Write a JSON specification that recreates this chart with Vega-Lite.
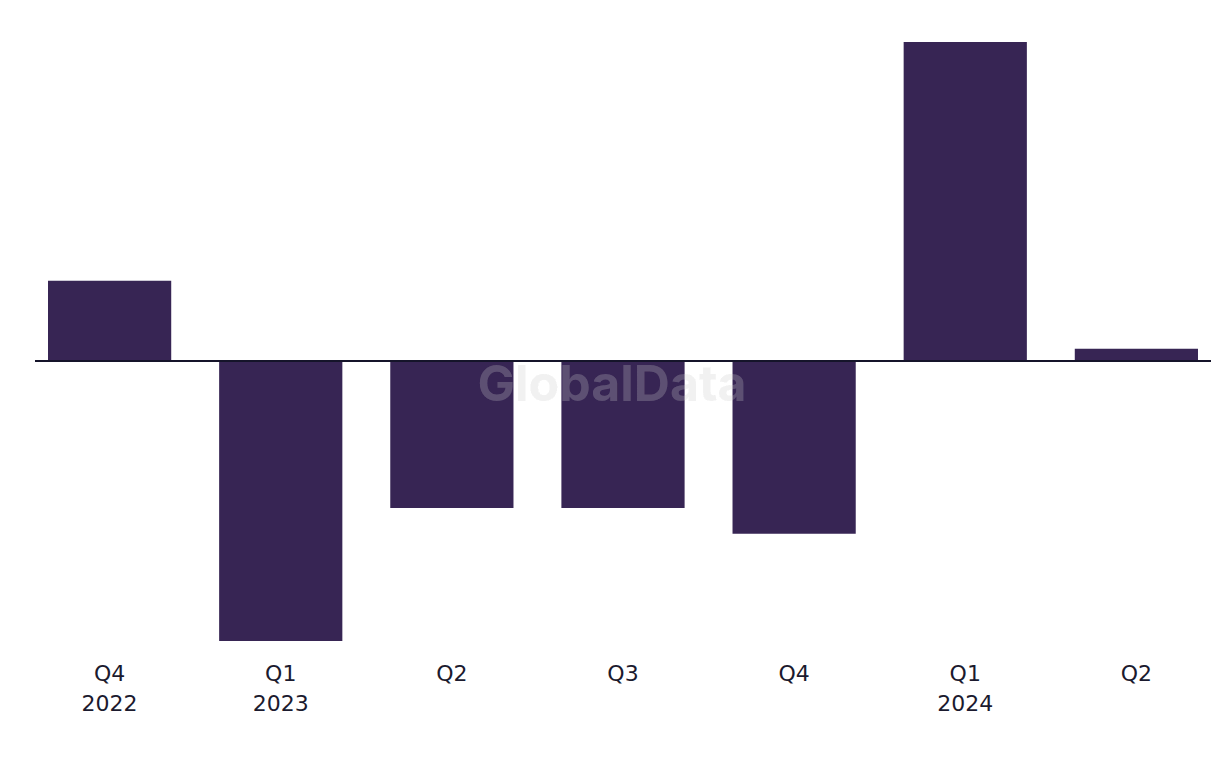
{
  "$schema": "https://vega.github.io/schema/vega-lite/v6.json",
  "autosize": {"type": "none"},
  "padding": {"left": 35, "top": 41, "right": 9, "bottom": 127},
  "width": 1176,
  "height": 600,
  "background": "#ffffff",
  "config": {"view": {"stroke": null}},
  "data": {
    "values": [
      {"period": "Q4 2022", "value": 2.51},
      {"period": "Q1 2023", "value": -8.78},
      {"period": "Q2 2023", "value": -4.61},
      {"period": "Q3 2023", "value": -4.61},
      {"period": "Q4 2023", "value": -5.42},
      {"period": "Q1 2024", "value": 10.0},
      {"period": "Q2 2024", "value": 0.38}
    ]
  },
  "encoding": {
    "x": {
      "field": "period",
      "type": "nominal",
      "sort": null,
      "scale": {"paddingInner": 0.28, "paddingOuter": 0.076},
      "axis": {
        "title": null,
        "domain": false,
        "ticks": false,
        "labelAngle": 0,
        "labelFont": "DejaVu Sans",
        "labelFontSize": 22,
        "labelColor": "#1b1a2e",
        "labelLineHeight": 30,
        "labelPadding": 22,
        "labelExpr": "(indexof(datum.label, 'Q1') == 0 || datum.label == 'Q4 2022') ? split(datum.label, ' ') : slice(datum.label, 0, 2)"
      }
    }
  },
  "layer": [
    {
      "mark": {"type": "bar", "color": "#372554"},
      "encoding": {
        "y": {
          "field": "value",
          "type": "quantitative",
          "scale": {"domain": [-8.78, 10.03], "nice": false, "zero": false},
          "axis": null
        }
      }
    },
    {
      "mark": {"type": "rule", "color": "#15142a", "strokeWidth": 2},
      "encoding": {"y": {"datum": 0, "type": "quantitative"}, "x": null}
    },
    {
      "mark": {"type": "text", "text": "GlobalData", "font": "Inter", "fontWeight": "bold", "fontSize": 50, "color": "#dcdcdc", "fillOpacity": 0.2, "opacity": 0.2, "dx": -11},
      "encoding": {
        "x": {"datum": "Q3 2023", "type": "nominal"},
        "y": {"datum": -0.78, "type": "quantitative"}
      }
    }
  ]
}
